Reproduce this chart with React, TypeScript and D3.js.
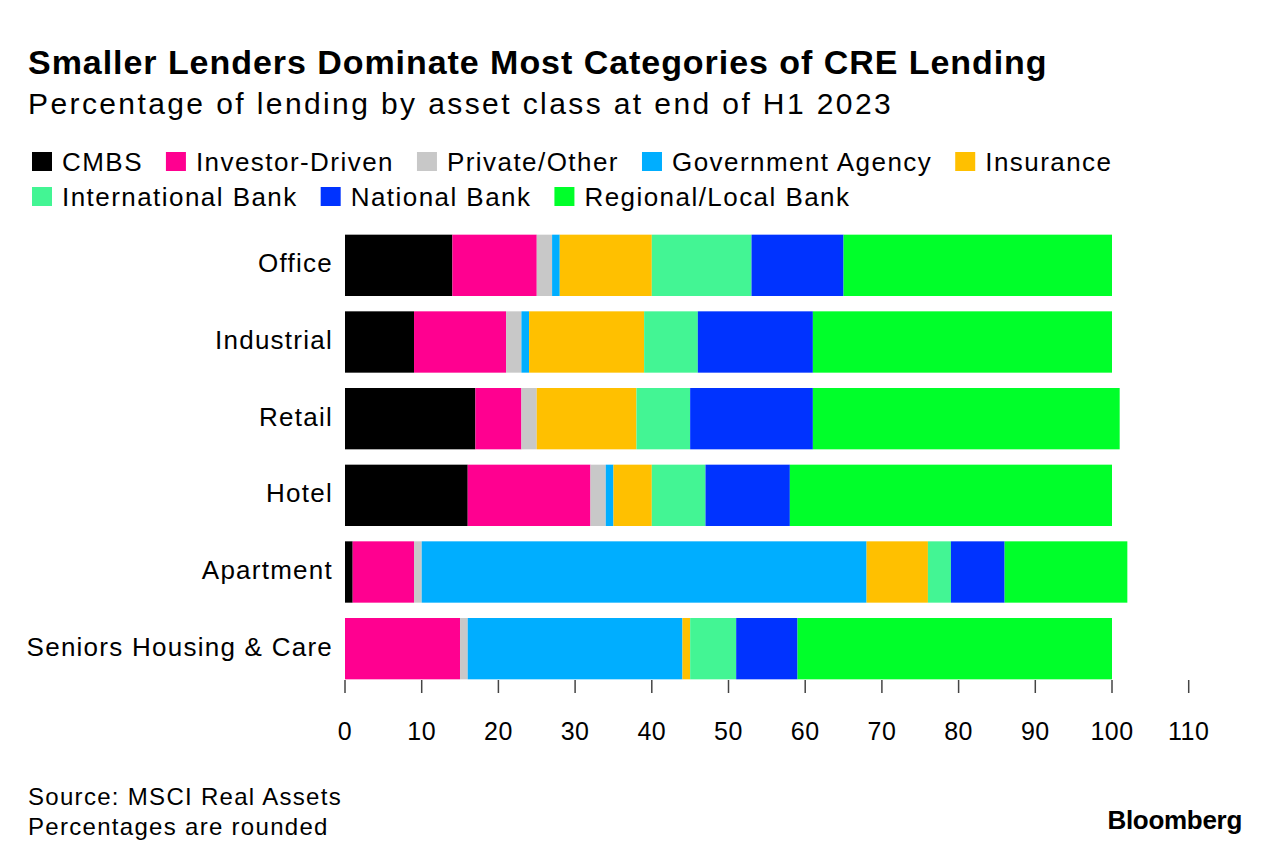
import React, { useEffect, useRef } from "react";
import * as d3 from "d3";

const categories = ["Office", "Industrial", "Retail", "Hotel", "Apartment", "Seniors Housing & Care"];
const seriesNames = [
  "CMBS",
  "Investor-Driven",
  "Private/Other",
  "Government Agency",
  "Insurance",
  "International Bank",
  "National Bank",
  "Regional/Local Bank",
];
const seriesColors = ["#000000", "#FF0090", "#C8C8C8", "#00AEFF", "#FFC000", "#43F594", "#0033FF", "#00FF2A"];

// values per category, in series order
const cmbs = [14, 9, 17, 16, 1, 0];
const investorDriven = [11, 12, 6, 16, 8, 15];
const privateOther = [2, 2, 2, 2, 1, 1];
const governmentAgency = [1, 1, 0, 1, 58, 28];
const insurance = [12, 15, 13, 5, 8, 1];
const internationalBank = [13, 7, 7, 7, 3, 6];
const nationalBank = [12, 15, 16, 11, 7, 8];
const regionalLocalBank = [35, 39, 40, 42, 16, 41];

const xTicks = [0, 10, 20, 30, 40, 50, 60, 70, 80, 90, 100, 110];

const title = "Smaller Lenders Dominate Most Categories of CRE Lending";
const subtitle = "Percentage of lending by asset class at end of H1 2023";
const sourceLines = ["Source: MSCI Real Assets", "Percentages are rounded"];

const FONT = "'Liberation Sans', Arial, Helvetica, sans-serif";

export default function App() {
  const ref = useRef<SVGSVGElement | null>(null);

  useEffect(() => {
    const svg = d3.select(ref.current);
    svg.selectAll("*").remove();

    const seriesValues = [
      cmbs,
      investorDriven,
      privateOther,
      governmentAgency,
      insurance,
      internationalBank,
      nationalBank,
      regionalLocalBank,
    ];
    const rows = categories.map((c, i) => {
      const r: any = { category: c };
      seriesNames.forEach((s, j) => (r[s] = seriesValues[j][i]));
      return r;
    });
    const stacked = d3.stack().keys(seriesNames)(rows);

    const x = d3.scaleLinear().domain([0, 100]).range([345, 1112]);
    const y = d3.scaleBand<string>().domain(categories).range([227, 687]).paddingInner(0.2).paddingOuter(0.1);
    const color = d3.scaleOrdinal<string, string>().domain(seriesNames).range(seriesColors);

    // Title & subtitle
    svg
      .append("text")
      .attr("x", 28)
      .attr("y", 74)
      .attr("font-family", FONT)
      .attr("font-weight", "bold")
      .attr("font-size", 34)
      .attr("letter-spacing", 0.95)
      .attr("fill", "#000")
      .text(title);
    svg
      .append("text")
      .attr("x", 28)
      .attr("y", 114)
      .attr("font-family", FONT)
      .attr("font-size", 30)
      .attr("letter-spacing", 2.4)
      .attr("fill", "#000")
      .text(subtitle);

    // Legend
    const legendRows = [seriesNames.slice(0, 5), seriesNames.slice(5)];
    const rowBaselines = [171, 206];
    legendRows.forEach((names, ri) => {
      let cx = 32;
      names.forEach((n) => {
        const g = svg.append("g");
        g.append("rect")
          .attr("x", cx)
          .attr("y", rowBaselines[ri] - 19)
          .attr("width", 20)
          .attr("height", 19)
          .attr("fill", color(n));
        const t = g
          .append("text")
          .attr("x", cx + 30)
          .attr("y", rowBaselines[ri])
          .attr("font-family", FONT)
          .attr("font-size", 26)
          .attr("letter-spacing", 1.45)
          .attr("fill", "#000")
          .text(n);
        const w = (t.node() as SVGTextElement).getComputedTextLength();
        cx = cx + 30 + w + 23;
      });
    });

    // Bars
    const layers = svg.append("g");
    stacked.forEach((layer) => {
      layers
        .append("g")
        .attr("fill", color(layer.key))
        .selectAll("rect")
        .data(layer)
        .join("rect")
        .attr("x", (d: any) => x(d[0]))
        .attr("y", (d: any) => y(d.data.category) as number)
        .attr("width", (d: any) => Math.max(0, x(d[1]) - x(d[0])))
        .attr("height", y.bandwidth());
    });

    // Category labels
    svg
      .append("g")
      .selectAll("text")
      .data(categories)
      .join("text")
      .attr("x", 333)
      .attr("y", (d) => (y(d) as number) + y.bandwidth() / 2 + 7)
      .attr("text-anchor", "end")
      .attr("font-family", FONT)
      .attr("font-size", 26)
      .attr("letter-spacing", 1.25)
      .attr("fill", "#000")
      .text((d) => d);

    // X axis
    const axisG = svg.append("g");
    axisG
      .selectAll("line")
      .data(xTicks)
      .join("line")
      .attr("x1", (d) => x(d))
      .attr("x2", (d) => x(d))
      .attr("y1", 680)
      .attr("y2", 693)
      .attr("stroke", "#444")
      .attr("stroke-width", 1.5);
    axisG
      .selectAll("text")
      .data(xTicks)
      .join("text")
      .attr("x", (d) => x(d))
      .attr("y", 740)
      .attr("text-anchor", "middle")
      .attr("font-family", FONT)
      .attr("font-size", 25)
      .attr("letter-spacing", 0.5)
      .attr("fill", "#000")
      .text((d) => String(d));

    // Footer
    sourceLines.forEach((s, i) => {
      svg
        .append("text")
        .attr("x", 28)
        .attr("y", 805 + i * 30)
        .attr("font-family", FONT)
        .attr("font-size", 24)
        .attr("letter-spacing", 1.3)
        .attr("fill", "#000")
        .text(s);
    });
    svg
      .append("text")
      .attr("x", 1242)
      .attr("y", 829)
      .attr("text-anchor", "end")
      .attr("font-family", FONT)
      .attr("font-weight", "bold")
      .attr("font-size", 26)
      .attr("letter-spacing", -0.3)
      .attr("fill", "#000")
      .text("Bloomberg");
  }, []);

  return (
    <svg
      ref={ref}
      width={1281}
      height={864}
      style={{ position: "absolute", left: 0, top: 0, background: "#fff" }}
    />
  );
}
